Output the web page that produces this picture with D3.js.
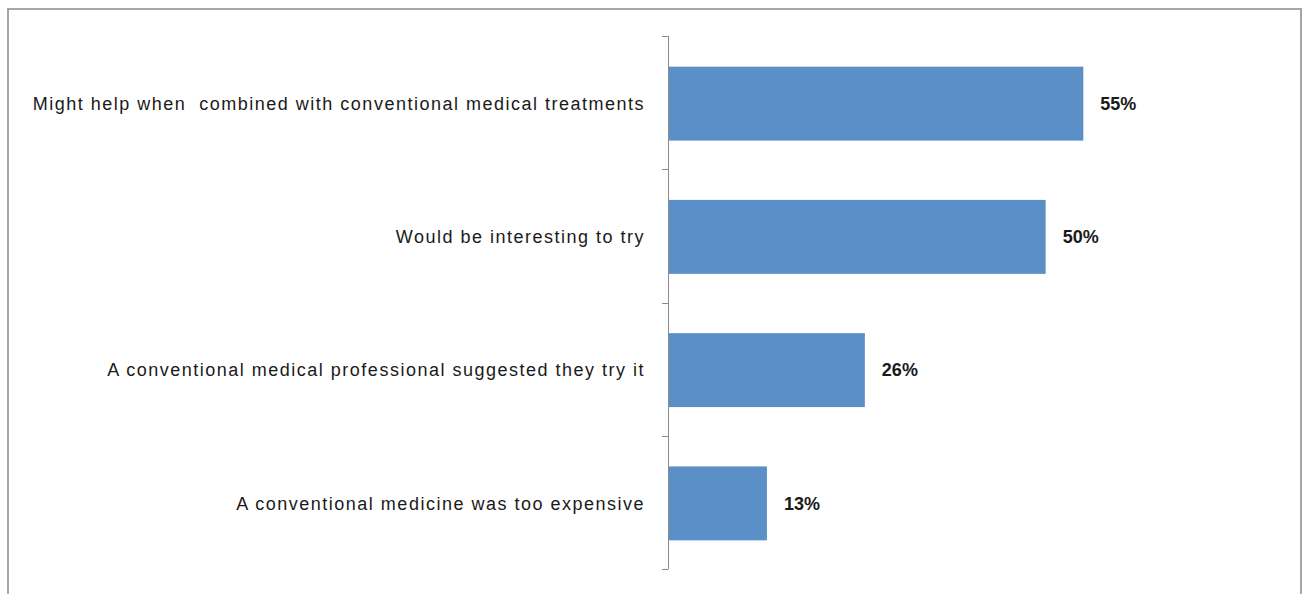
<!DOCTYPE html>
<html>
<head>
<meta charset="utf-8">
<script src="https://cdn.jsdelivr.net/npm/d3@7"></script>
<style>
  html, body { margin: 0; padding: 0; background: #fff; }
  svg { display: block; }
</style>
</head>
<body>
<svg id="chart" width="1303" height="594"></svg>
<script>
// Reasons given for trying the therapy (share of respondents, %)
const categories = [
  "Might help when  combined with conventional medical treatments",
  "Would be interesting to try",
  "A conventional medical professional suggested they try it",
  "A conventional medicine was too expensive"
];
const values = [55, 50, 26, 13];
const valueLabels = ["55%", "50%", "26%", "13%"];

const svg = d3.select("#chart");
const W = 1303, H = 594;

// outer frame
svg.append("rect")
  .attr("x", 8).attr("y", 9)
  .attr("width", W - 10).attr("height", H + 10)
  .attr("fill", "#fff")
  .attr("stroke", "#a6a6a6")
  .attr("stroke-width", 2);

const plot = { left: 669, right: 1121, top: 36, bottom: 569 };

const x = d3.scaleLinear().domain([0, 60]).range([plot.left, plot.right]);
const y = d3.scaleBand()
  .domain(categories)
  .range([plot.top, plot.bottom])
  .paddingInner(0.445)
  .paddingOuter(0.2225);

// bars
svg.append("g").selectAll("rect")
  .data(values)
  .join("rect")
  .attr("x", x(0))
  .attr("y", (d, i) => y(categories[i]) + 1)
  .attr("width", d => x(d) - x(0))
  .attr("height", y.bandwidth())
  .attr("fill", "#5b8fc7");

// category axis: line with ticks at band boundaries
const axis = svg.append("g").attr("stroke", "#8c8c8c").attr("stroke-width", 1);
axis.append("line")
  .attr("x1", plot.left - 0.5).attr("x2", plot.left - 0.5)
  .attr("y1", plot.top).attr("y2", plot.bottom);
const bounds = d3.range(categories.length + 1).map(i => plot.top + i * y.step());
axis.selectAll("line.tick")
  .data(bounds)
  .join("line")
  .attr("class", "tick")
  .attr("x1", plot.left - 7).attr("x2", plot.left - 0.5)
  .attr("y1", d => Math.round(d) + 0.5).attr("y2", d => Math.round(d) + 0.5);

// category labels
svg.append("g").selectAll("text")
  .data(categories)
  .join("text")
  .attr("x", 645)
  .attr("y", d => y(d) + 1 + y.bandwidth() / 2)
  .attr("dy", "0.35em")
  .attr("text-anchor", "end")
  .attr("font-family", "Liberation Sans, Arial, sans-serif")
  .attr("font-size", 18)
  .attr("letter-spacing", "1.5px")
  .attr("fill", "#1a1a1a")
  .style("white-space", "pre")
  .text(d => d);

// value labels
svg.append("g").selectAll("text")
  .data(values)
  .join("text")
  .attr("x", d => x(d) + 17)
  .attr("y", (d, i) => y(categories[i]) + 1 + y.bandwidth() / 2)
  .attr("dy", "0.35em")
  .attr("font-family", "Liberation Sans, Arial, sans-serif")
  .attr("font-size", 18)
  .attr("font-weight", "bold")
  .attr("fill", "#1a1a1a")
  .text((d, i) => valueLabels[i]);
</script>
</body>
</html>
